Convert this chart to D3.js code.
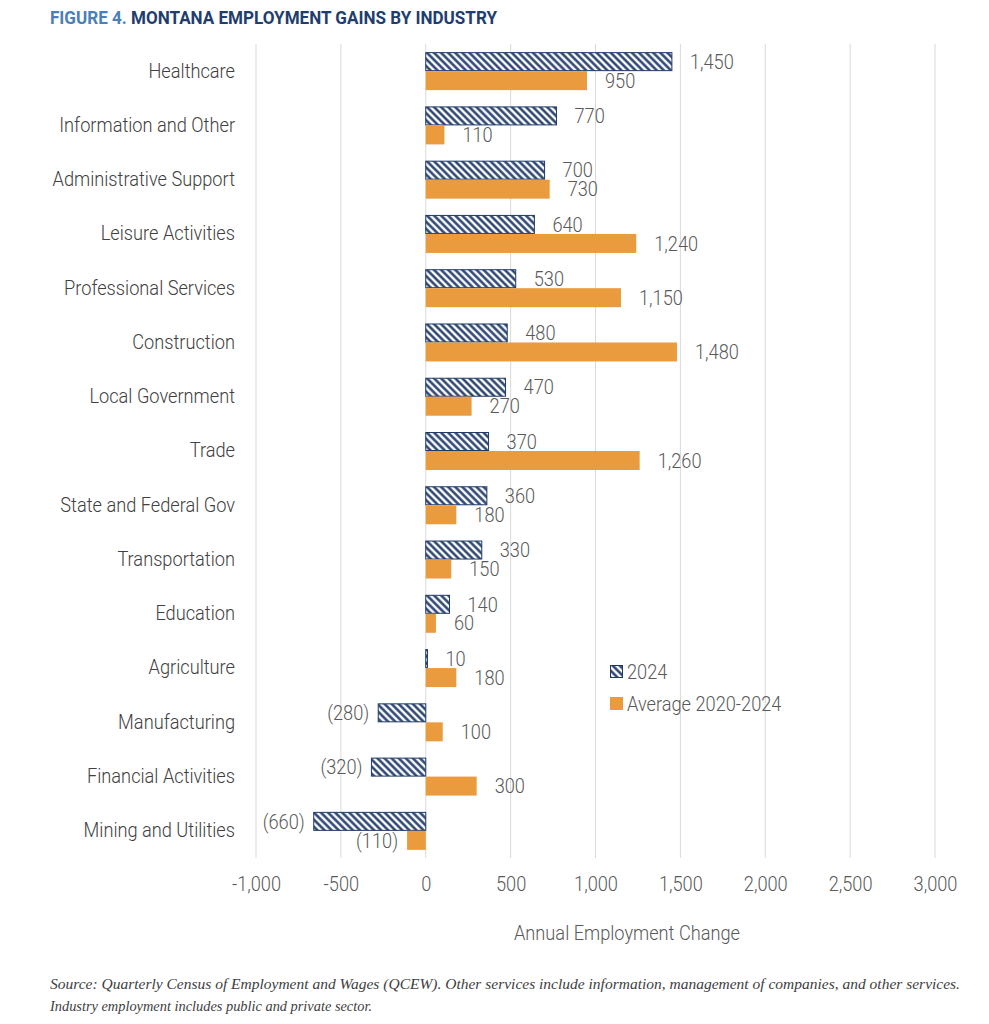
<!DOCTYPE html>
<html>
<head>
<meta charset="utf-8">
<script src="https://cdn.jsdelivr.net/npm/d3@7"></script>
<style>
  body { margin: 0; background: #fff; }
  svg text { font-family: Roboto, "Liberation Sans", sans-serif; font-weight: 300; }
</style>
</head>
<body>
<script>
// data
const industries = ["Healthcare", "Information and Other", "Administrative Support", "Leisure Activities",
  "Professional Services", "Construction", "Local Government", "Trade", "State and Federal Gov",
  "Transportation", "Education", "Agriculture", "Manufacturing", "Financial Activities", "Mining and Utilities"];
const gains2024 = [1450, 770, 700, 640, 530, 480, 470, 370, 360, 330, 140, 10, -280, -320, -660];
const avg2020_2024 = [950, 110, 730, 1240, 1150, 1480, 270, 1260, 180, 150, 60, 180, 100, 300, -110];
const xTicks = [-1000, -500, 0, 500, 1000, 1500, 2000, 2500, 3000];
const seriesNames = ["2024", "Average 2020-2024"];

const W = 989, H = 1024;
const c_navy = "#1f3a68", c_orange = "#e99b3d", c_text = "#595959", c_grid = "#d9d9d9";
const fs = 20;

var svg = d3.select("body").append("svg")
    .attr("width", W)
    .attr("height", H);

// hatch for the 2024 bars
var defs = svg.append("defs");
defs.append("pattern")
    .attr("id", "hatch")
    .attr("patternUnits", "userSpaceOnUse")
    .attr("width", 5).attr("height", 5)
    .attr("patternTransform", "rotate(-45)")
  .call(p => {
    p.append("rect").attr("width", 5).attr("height", 5).attr("fill", "#fff");
    p.append("line").attr("x1", 1.5).attr("x2", 1.5).attr("y1", 0).attr("y2", 5)
      .attr("stroke", c_navy).attr("stroke-width", 2.4);
  });

// title
var title = svg.append("text")
    .attr("x", 50).attr("y", 24)
    .attr("font-size", 18)
    .style("font-weight", "bold")
    .attr("textLength", 447).attr("lengthAdjust", "spacingAndGlyphs");
title.append("tspan").attr("fill", "#4a7fb8").text("FIGURE 4. ");
title.append("tspan").attr("fill", "#1f3e6e").text("MONTANA EMPLOYMENT GAINS BY INDUSTRY");

// scales
var x = d3.scaleLinear().domain([-1000, 3000]).range([256, 935]);
var y = d3.scaleBand().domain(industries).range([44, 858]).paddingInner(0.3).paddingOuter(0.15);
var ySub = d3.scaleBand().domain(seriesNames).range([0, y.bandwidth()]);

// gridlines
svg.append("g").selectAll("line")
    .data(xTicks)
    .enter().append("line")
    .attr("x1", d => x(d)).attr("x2", d => x(d))
    .attr("y1", 44).attr("y2", 858)
    .attr("stroke", c_grid).attr("stroke-width", 1);

// x axis labels
var x_axis = d3.axisBottom(x).tickValues(xTicks).tickSize(0).tickPadding(0)
    .tickFormat(d => d3.format(",.0f")(d).replace("\u2212", "-"));
var gx = svg.append("g")
    .attr("transform", "translate(0, 877)")
    .call(x_axis);
gx.select(".domain").remove();
gx.selectAll("text").attr("class", "narrow").attr("font-size", fs).attr("fill", c_text)
    .attr("font-family", null);

svg.append("text")
    .attr("class", "narrow")
    .attr("x", 627).attr("y", 940)
    .attr("text-anchor", "middle")
    .attr("font-size", fs).attr("fill", c_text)
    .text("Annual Employment Change");

// category labels
var y_axis = d3.axisLeft(y).tickSize(0).tickPadding(0);
var gy = svg.append("g")
    .attr("transform", "translate(235, 0)")
    .call(y_axis);
gy.select(".domain").remove();
gy.selectAll("text").attr("class", "narrow").attr("font-size", fs).attr("fill", "#404040")
    .attr("font-family", null);

// rows
var a_rows = industries.map((name, i) => ({name: name, v: [gains2024[i], avg2020_2024[i]]}));
const fmt = d3.format(",");
function label(v) { return v < 0 ? "(" + fmt(-v) + ")" : fmt(v); }

var g_rows = svg.append("g").selectAll("g")
    .data(a_rows)
    .enter().append("g")
    .attr("transform", d => `translate(0, ${y(d.name)})`);

g_rows.each(function(d) {
    var g = d3.select(this);
    seriesNames.forEach(function(s, k) {
        var v = d.v[k];
        var y0 = ySub(s), h = ySub.bandwidth();
        g.append("rect")
            .attr("x", Math.min(x(0), x(v)))
            .attr("y", k == 0 ? y0 + 0.5 : y0)
            .attr("width", Math.abs(x(v) - x(0)))
            .attr("height", k == 0 ? h - 1 : h)
            .attr("fill", k == 0 ? "url(#hatch)" : c_orange)
            .attr("stroke", k == 0 ? c_navy : "none")
            .attr("stroke-width", 1);
        g.append("text")
            .attr("class", "narrow")
            .attr("x", v < 0 ? x(v) - 9 : x(v) + 18)
            .attr("y", y0 + h / 2)
            .attr("dy", "0.36em")
            .attr("text-anchor", v < 0 ? "end" : "start")
            .attr("font-size", fs).attr("fill", c_text)
            .text(label(v));
    });
});

// legend
var legend = svg.append("g").attr("transform", "translate(610, 665)");
legend.append("rect").attr("x", 0.5).attr("y", 0.5).attr("width", 12).attr("height", 12)
    .attr("fill", "url(#hatch)").attr("stroke", c_navy);
legend.append("text").attr("class", "narrow").attr("x", 17).attr("y", 7).attr("dy", "0.36em")
    .attr("font-size", fs).attr("fill", c_text).text(seriesNames[0]);
legend.append("rect").attr("x", 0).attr("y", 32).attr("width", 13).attr("height", 13)
    .attr("fill", c_orange);
legend.append("text").attr("class", "narrow").attr("x", 17).attr("y", 39).attr("dy", "0.36em")
    .attr("font-size", fs).attr("fill", c_text).text(seriesNames[1]);

// squeeze the sans text a bit, the original face is condensed
svg.selectAll("text.narrow").each(function() {
    var len = this.getComputedTextLength();
    d3.select(this).attr("textLength", len * 0.91).attr("lengthAdjust", "spacingAndGlyphs");
});

// source note
var note = svg.append("g")
    .attr("font-style", "italic").attr("font-size", 15).attr("fill", "#404040");
note.append("text").attr("x", 50).attr("y", 989)
    .attr("textLength", 910).attr("lengthAdjust", "spacingAndGlyphs")
    .style("font-family", "'Liberation Serif', serif").style("font-weight", "normal")
    .text("Source: Quarterly Census of Employment and Wages (QCEW). Other services include information, management of companies, and other services.");
note.append("text").attr("x", 50).attr("y", 1011)
    .attr("textLength", 322).attr("lengthAdjust", "spacingAndGlyphs")
    .style("font-family", "'Liberation Serif', serif").style("font-weight", "normal")
    .text("Industry employment includes public and private sector.");
</script>
</body>
</html>
